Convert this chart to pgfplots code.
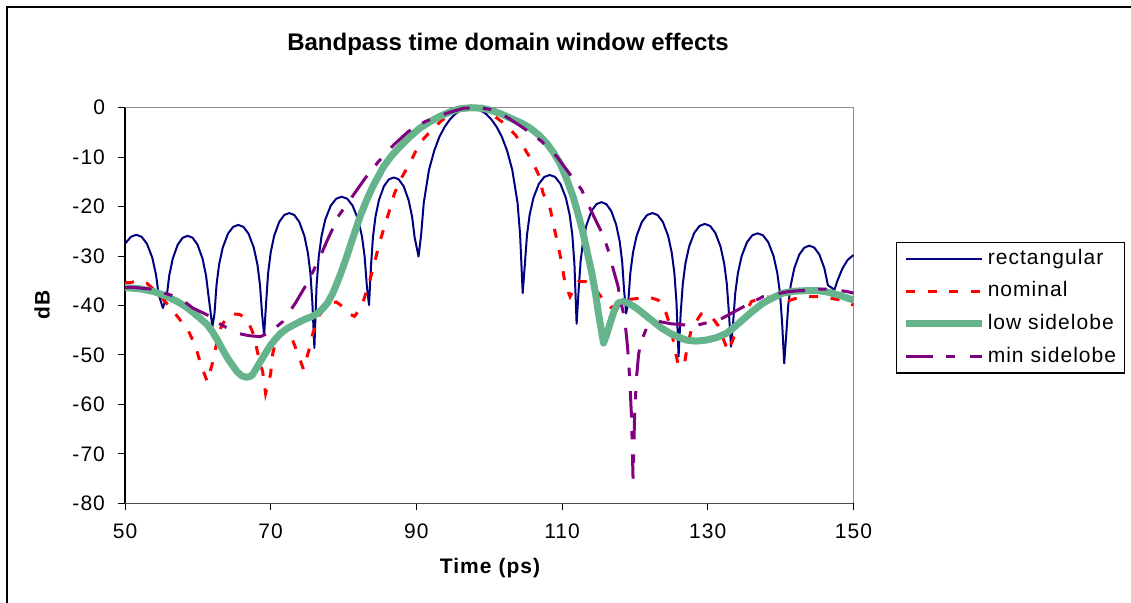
\documentclass[border=0pt]{standalone}
\usepackage{fontspec}
\setmainfont{Liberation Sans}
\newfontfamily\lsfont{Liberation Sans}[LetterSpace=5]
\usepackage{pgfplots}
\pgfplotsset{compat=1.18}
\definecolor{rectc}{RGB}{0,0,128}
\definecolor{nomc}{RGB}{255,0,0}
\definecolor{lowc}{RGB}{102,180,140}
\definecolor{minc}{RGB}{128,0,128}
\begin{document}
\begin{tikzpicture}
\useasboundingbox (0,0) rectangle (565.5pt,-301pt);
\draw[line width=1pt] (3.3pt,-302pt) -- (3.3pt,-3.5pt) -- (566pt,-3.5pt);
\begin{axis}[
 at={(62.5pt,-53.85pt)}, anchor=north west,
 width=364.2pt, height=197.8pt, scale only axis,
 xmin=50, xmax=150, ymin=-80, ymax=0,
 xtick={50,70,...,150}, ytick={-80,-70,...,0},
 tick align=outside, xtick pos=bottom, ytick pos=left,
 major tick length=3.5pt,
 tick style={black, line width=0.5pt},
 axis line style={draw=none},
 /pgf/number format/assume math mode=true,
 tick label style={font=\lsfont\fontsize{10.5}{12}\selectfont},
 xticklabel style={yshift=-3pt},
 yticklabel style={xshift=-3pt},
 clip=false,
 legend style={at={(1.0587,0.6613)}, anchor=north west, draw=black, line width=0.6pt,
   inner xsep=3pt, inner ysep=2pt, font=\lsfont\fontsize{10.5}{12}\selectfont,
   row sep=3.8pt, nodes={inner sep=1pt, text height=8pt, text depth=2.5pt}},
 legend cell align=left,
 legend image code/.code={\draw[#1] (0pt,0pt) -- (38pt,0pt);},
]
\draw[black!45, line width=0.7pt] (rel axis cs:0,1) -- (rel axis cs:1,1) -- (rel axis cs:1,0);
\draw[black!70, line width=0.7pt] (rel axis cs:0,0) -- (rel axis cs:1,0);
\draw[black, line width=0.6pt] (rel axis cs:0,0) -- (rel axis cs:0,1);

\addplot[rectc, line width=1pt, line join=round] table {
50.0 -27.5
50.82 -26.1
51.55 -25.7
52.28 -26.1
53.01 -27.5
53.74 -30.3
54.25 -33.7
54.62 -37.8
55.2 -40.5
55.74 -38.0
56.08 -33.9
56.56 -30.5
57.24 -27.7
57.92 -26.3
58.6 -25.9
59.28 -26.3
59.96 -27.7
60.64 -30.5
61.12 -33.9
61.46 -38.0
62.0 -44.3
62.28 -41.7
62.57 -35.8
62.92 -31.7
63.42 -28.3
64.13 -25.5
64.84 -24.1
65.55 -23.7
66.26 -24.1
66.97 -25.5
67.68 -28.3
68.18 -31.7
68.53 -35.8
68.82 -41.7
69.1 -46.0
69.38 -39.3
69.65 -33.4
70.0 -29.3
70.48 -25.9
71.17 -23.1
71.86 -21.7
72.55 -21.3
73.24 -21.7
73.93 -23.1
74.62 -25.9
75.10 -29.3
75.45 -33.4
75.72 -39.3
76.0 -48.6
76.3 -36.0
76.6 -30.1
76.98 -26.0
77.5 -22.6
78.25 -19.8
79.0 -18.4
79.75 -18.0
80.5 -18.4
81.25 -19.8
82.0 -22.6
82.53 -26.0
82.9 -30.1
83.2 -36.0
83.5 -39.9
83.77 -32.1
84.04 -26.2
84.38 -22.1
84.86 -18.7
85.54 -15.9
86.22 -14.5
86.9 -14.1
87.58 -14.5
88.26 -15.9
88.94 -18.7
89.42 -22.1
89.76 -26.2
90.3 -30.1
90.66 -25.6
91.02 -19.2
91.73 -12.6
92.45 -8.7
93.16 -5.9
93.88 -3.9
94.59 -2.4
95.31 -1.3
96.02 -0.6
96.74 -0.1
97.45 0
98.17 -0.1
98.88 -0.6
99.6 -1.3
100.31 -2.4
101.03 -3.9
101.74 -5.9
102.46 -8.7
103.17 -12.6
103.89 -19.2
104.24 -25.6
104.6 -37.5
104.9 -31.6
105.19 -25.7
105.56 -21.6
106.08 -18.2
106.82 -15.4
107.56 -14.0
108.3 -13.6
109.04 -14.0
109.78 -15.4
110.52 -18.2
111.04 -21.6
111.41 -25.7
111.7 -31.6
112.0 -43.7
112.27 -37.1
112.54 -31.2
112.88 -27.1
113.36 -23.7
114.04 -20.9
114.72 -19.5
115.4 -19.1
116.08 -19.5
116.76 -20.9
117.44 -23.7
117.92 -27.1
118.26 -31.2
118.53 -37.1
118.8 -41.6
119.09 -39.3
119.38 -33.4
119.74 -29.3
120.24 -25.9
120.96 -23.1
121.68 -21.7
122.4 -21.3
123.12 -21.7
123.84 -23.1
124.56 -25.9
125.06 -29.3
125.42 -33.4
125.71 -39.3
126.0 -50.3
126.29 -41.5
126.58 -35.6
126.94 -31.5
127.44 -28.1
128.16 -25.3
128.88 -23.9
129.6 -23.5
130.32 -23.9
131.04 -25.3
131.76 -28.1
132.26 -31.5
132.62 -35.6
132.91 -41.5
133.2 -48.3
133.49 -43.4
133.78 -37.5
134.15 -33.4
134.66 -30.0
135.39 -27.2
136.12 -25.8
136.85 -25.4
137.58 -25.8
138.31 -27.2
139.04 -30.0
139.55 -33.4
139.92 -37.5
140.21 -43.4
140.5 -51.7
140.78 -45.9
141.05 -40.0
141.4 -35.9
141.88 -32.5
142.57 -29.7
143.26 -28.3
143.95 -27.9
144.64 -28.3
145.33 -29.7
146.02 -32.5
146.5 -35.9
147.4 -36.8
147.8 -35.0
148.5 -32.5
149.2 -30.8
150.0 -29.8
};
\addlegendentry{rectangular}

\addplot[nomc, line width=1.5pt, dash pattern=on 4.5pt off 6.3pt] table {
50.0 -35.3
50.6 -35.4
51.8 -35.0
53.0 -35.5
54.5 -37.5
55.9 -39.9
57.3 -42.4
58.7 -45.1
59.7 -48.3
60.4 -51.9
61.3 -55.4
62.0 -51.7
62.5 -48.2
63.2 -44.3
64.0 -42.3
64.7 -41.7
65.7 -41.8
66.7 -42.6
67.7 -46.0
68.2 -49.5
68.9 -53.4
69.3 -57.8
70.0 -53.8
70.2 -50.3
70.8 -46.5
71.8 -45.0
72.9 -46.6
73.8 -50.0
74.5 -52.9
75.2 -49.3
75.8 -45.6
76.6 -42.1
78.0 -39.5
79.0 -39.3
79.6 -39.9
80.6 -41.5
81.5 -42.2
82.1 -41.0
82.7 -39.2
83.5 -35.5
84.2 -31.8
84.8 -28.1
85.5 -24.6
86.2 -21.3
87.0 -17.3
88.0 -14.1
89.2 -10.9
90.5 -7.1
91.9 -4.8
93.3 -2.8
94.6 -1.4
96.0 -0.4
97.4 0
98.8 -0.4
100.3 -1.3
101.9 -3.0
103.6 -5.5
104.9 -8.4
105.9 -10.8
106.8 -13.6
107.4 -17.3
108.4 -20.6
108.9 -24.2
109.5 -28.1
110.0 -31.8
110.4 -35.5
111.1 -38.2
111.7 -36.5
112.3 -35.1
113.3 -35.2
114.4 -36.4
115.4 -38.3
116.7 -40.4
117.8 -39.8
119.0 -38.8
120.9 -38.5
122.1 -38.4
123.2 -38.9
124.3 -41.6
125.0 -44.9
125.5 -49.0
126.0 -52.3
126.8 -51.8
127.2 -48.3
127.8 -44.6
129.1 -41.7
130.4 -42.0
131.4 -44.0
132.1 -46.6
132.8 -49.3
133.7 -46.0
134.8 -42.5
136.0 -39.2
137.8 -38.2
139.3 -38.5
140.8 -39.2
142.0 -38.6
143.1 -38.2
145.6 -38.2
148.3 -38.9
150.0 -39.9
};
\addlegendentry{nominal}

\addplot[lowc, line width=3.5pt, line join=round] table {
50.0 -36.4
52.0 -36.6
54.0 -37.2
55.6 -38.1
57.2 -39.2
58.4 -40.3
59.5 -41.6
60.4 -42.7
61.3 -43.9
62.0 -45.3
62.7 -47.0
63.4 -48.9
64.1 -50.7
64.8 -52.2
65.4 -53.4
66.0 -54.2
66.6 -54.5
67.1 -54.4
67.5 -54.0
68.0 -52.8
68.6 -51.3
69.3 -49.6
70.0 -48.0
70.7 -46.7
71.4 -45.6
72.3 -44.6
73.2 -43.9
74.1 -43.2
75.0 -42.6
75.7 -42.2
76.4 -41.6
77.1 -40.7
77.8 -39.5
78.5 -37.6
79.1 -35.5
79.8 -32.8
80.6 -29.4
81.4 -25.8
82.3 -21.9
83.2 -18.6
84.0 -16.0
84.8 -13.8
85.5 -11.9
86.6 -9.7
87.8 -7.8
89.1 -5.9
90.5 -4.1
91.9 -2.8
93.3 -1.7
94.7 -0.8
96.0 -0.2
97.5 0
99.0 -0.1
100.4 -0.6
101.7 -1.3
102.9 -2.1
104.3 -3.0
105.6 -4.1
106.8 -5.5
107.9 -7.2
108.8 -9.0
109.7 -11.2
110.6 -14.3
111.5 -17.9
112.2 -21.5
112.9 -25.4
113.5 -29.5
114.1 -33.5
114.6 -37.6
115.0 -41.6
115.4 -45.0
115.7 -47.6
116.1 -46.0
116.6 -43.6
117.1 -41.3
117.7 -39.5
118.4 -39.2
119.2 -39.6
120.2 -40.5
121.3 -41.8
122.5 -43.2
123.6 -44.5
124.8 -45.6
126.0 -46.4
127.1 -47.0
128.4 -47.2
129.8 -47.0
131.2 -46.5
132.6 -45.6
133.7 -44.3
134.8 -42.9
136.2 -41.1
137.6 -39.5
139.0 -38.4
140.3 -37.5
141.9 -37.1
143.5 -37.0
145.0 -37.0
146.2 -37.2
148.0 -37.9
150.0 -38.9
};
\addlegendentry{low sidelobe}

\addplot[minc, line width=1.5pt, dash pattern=on 13.3pt off 6.7pt on 4.2pt off 7.5pt] table {
50.0 -36.4
50.8 -36.3
53.8 -36.7
56.3 -37.9
57.7 -38.7
59.3 -40.5
61.7 -42.2
62.9 -43.6
64.2 -44.7
65.4 -45.6
67.0 -46.1
68.6 -46.3
70.0 -45.3
71.7 -43.2
73.4 -39.5
75.0 -35.5
76.6 -30.8
77.8 -26.7
79.4 -21.7
80.9 -18.6
83.0 -14.2
84.8 -10.9
86.9 -7.5
88.9 -4.8
91.2 -2.8
94.2 -1.1
96.5 -0.1
98.4 0
100.1 -0.3
101.9 -1.4
104.7 -4.1
107.2 -6.8
109.3 -9.9
111.3 -13.9
112.7 -16.6
113.4 -19.0
114.7 -23.0
115.7 -26.0
116.4 -29.1
117.0 -32.5
117.7 -36.2
118.0 -38.9
118.6 -42.6
119.0 -48.5
119.3 -55.0
119.55 -63.0
119.75 -75.0
119.95 -63.0
120.2 -55.0
120.5 -50.0
120.8 -47.5
121.6 -44.6
123.2 -43.2
125.0 -43.7
128.2 -44.1
130.7 -43.2
131.6 -42.9
134.6 -40.5
137.6 -38.2
141.0 -37.2
145.3 -36.7
147.0 -36.7
149.2 -37.2
150.0 -37.5
};
\addlegendentry{min sidelobe}
\end{axis}
\node[font=\fontsize{12}{14}\selectfont\bfseries] at (254pt,-22pt) {Bandpass time domain window effects};
\node[font=\lsfont\bfseries\fontsize{10.5}{12}\selectfont] at (245pt,-284pt) {Time (ps)};
\node[font=\lsfont\bfseries\fontsize{10.5}{12}\selectfont, rotate=90] at (21pt,-152.5pt) {dB};
\end{tikzpicture}
\end{document}
